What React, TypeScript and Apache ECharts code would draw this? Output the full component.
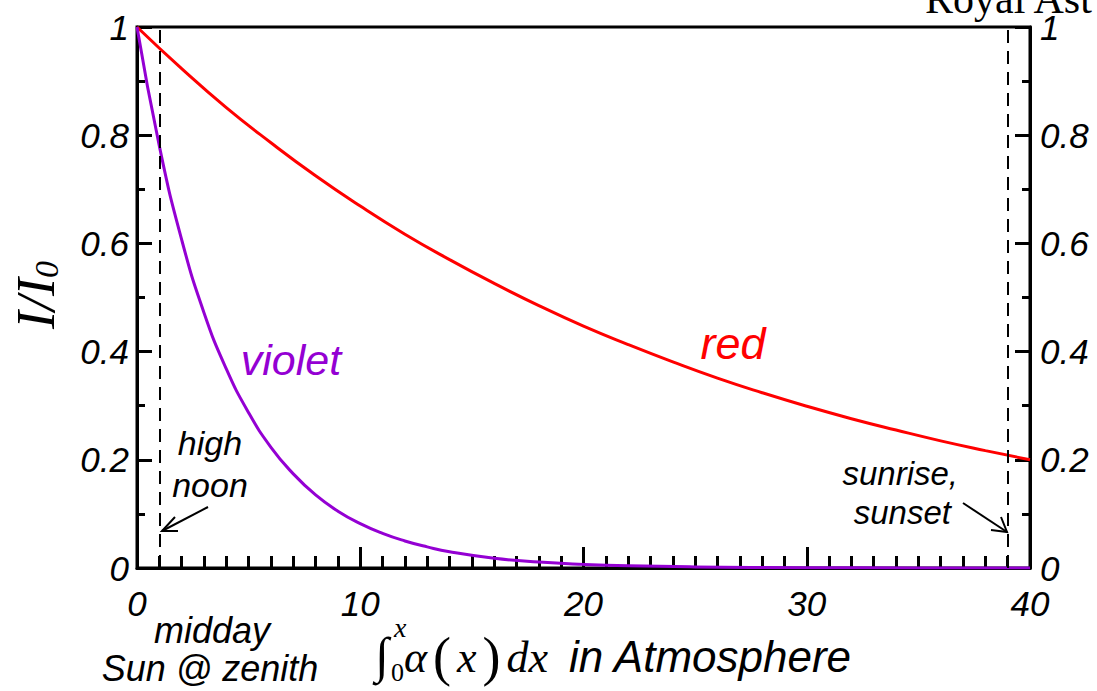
import React, { useEffect, useRef } from "react";
import * as echarts from "echarts";

const redX = [0, 2, 4, 6, 8, 10, 12, 14, 16, 18, 20, 22, 24, 26, 28, 30, 32, 34, 36, 38, 40];
const redY = [1, 0.923, 0.851, 0.786, 0.725, 0.669, 0.617, 0.57, 0.526, 0.485, 0.447, 0.413, 0.381, 0.351, 0.324, 0.299, 0.276, 0.255, 0.235, 0.217, 0.2];
const violetX = [0, 1, 2, 3, 4, 5, 6, 7, 8, 9, 10, 11, 12, 13, 14, 16, 18, 20, 22, 25, 30, 35, 40];
const violetY = [1, 0.78, 0.607, 0.472, 0.368, 0.287, 0.223, 0.174, 0.135, 0.105, 0.082, 0.064, 0.05, 0.039, 0.03, 0.018, 0.011, 0.0067, 0.004, 0.002, 0.0006, 0.0002, 0.00005];
const markerX = [1, 39];
const yTicks = { min: 0, max: 1, interval: 0.2 };
const xTicks = { min: 0, max: 40, interval: 10 };

const SANS = "Liberation Sans, Arial, sans-serif";
const SERIF = "Liberation Serif, Times New Roman, serif";

export default function App() {
  const ref = useRef<HTMLDivElement>(null);
  useEffect(() => {
    if (!ref.current) return;
    const chart = echarts.init(ref.current, null, { renderer: "svg" });
    const yAxisBase = (pos: "left" | "right") => ({
      type: "value" as const,
      position: pos,
      min: yTicks.min,
      max: yTicks.max,
      interval: yTicks.interval,
      axisLine: { show: true, lineStyle: { color: "#000", width: 3 } },
      axisTick: { show: true, inside: true, length: 15, lineStyle: { color: "#000", width: 3 } },
      minorTick: { show: true, splitNumber: 2, length: 8, lineStyle: { color: "#000", width: 3 } },
      splitLine: { show: false },
      minorSplitLine: { show: false },
      axisLabel: {
        show: true,
        color: "#000",
        fontSize: 35,
        fontStyle: "italic",
        fontFamily: SANS,
        margin: pos === "left" ? 8 : 10,
      },
    });
    const txt = (x: number, y: number, text: string, font: string, fill = "#000", align = "center") => ({
      type: "text",
      x,
      y,
      style: { text, font, fill, align, verticalAlign: "middle" },
    });
    chart.setOption({
      animation: false,
      backgroundColor: "#fff",
      grid: {
        left: 137,
        right: 67,
        top: 27,
        bottom: 123,
        show: true,
        borderColor: "#000",
        borderWidth: 3,
        backgroundColor: "transparent",
      },
      xAxis: {
        type: "value",
        min: xTicks.min,
        max: xTicks.max,
        interval: xTicks.interval,
        axisLine: { show: true, lineStyle: { color: "#000", width: 3 } },
        axisTick: { show: true, inside: true, length: 21, lineStyle: { color: "#000", width: 3 } },
        minorTick: { show: true, splitNumber: 10, length: 12, lineStyle: { color: "#000", width: 3 } },
        splitLine: { show: false },
        minorSplitLine: { show: false },
        axisLabel: {
          color: "#000",
          fontSize: 35,
          fontStyle: "italic",
          fontFamily: SANS,
          margin: 18,
        },
      },
      yAxis: [yAxisBase("left"), yAxisBase("right")],
      series: [
        {
          type: "line",
          name: "red",
          data: redX.map((x, i) => [x, redY[i]]),
          smooth: true,
          showSymbol: false,
          lineStyle: { color: "#ff0000", width: 3 },
          z: 3,
          markLine: {
            silent: true,
            symbol: ["none", "none"],
            label: { show: false },
            lineStyle: { color: "#000", width: 2, type: [13, 8] },
            data: markerX.map((v) => ({ xAxis: v })),
          },
        },
        {
          type: "line",
          name: "violet",
          data: violetX.map((x, i) => [x, violetY[i]]),
          smooth: true,
          showSymbol: false,
          lineStyle: { color: "#9400d3", width: 3 },
          z: 3,
        },
      ],
      graphic: [
        {
          type: "text",
          x: 925,
          y: 20,
          style: { text: "Royal Ast", font: `42px ${SERIF}`, fill: "#000", verticalAlign: "bottom", align: "left" },
        },
        txt(291, 360, "violet", `italic 43px ${SANS}`, "#9400d3"),
        txt(733, 343, "red", `italic 45px ${SANS}`, "#ff0000"),
        txt(210, 443, "high", `italic 34px ${SANS}`),
        txt(210, 485, "noon", `italic 34px ${SANS}`),
        txt(958, 473, "sunrise,", `italic 33px ${SANS}`, "#000", "right"),
        txt(951, 512, "sunset", `italic 33px ${SANS}`, "#000", "right"),
        { type: "line", shape: { x1: 208, y1: 507, x2: 162, y2: 531 }, style: { stroke: "#000", lineWidth: 2 } },
        { type: "polyline", shape: { points: [[175, 517], [162, 531], [178, 531]] }, style: { stroke: "#000", lineWidth: 2, fill: "none" } },
        { type: "line", shape: { x1: 963, y1: 503, x2: 1007, y2: 532 }, style: { stroke: "#000", lineWidth: 2 } },
        { type: "polyline", shape: { points: [[991, 530], [1007, 532], [1001, 517]] }, style: { stroke: "#000", lineWidth: 2, fill: "none" } },
        txt(212, 630, "midday", `italic 36px ${SANS}`),
        txt(210, 668, "Sun @ zenith", `italic 36px ${SANS}`),
        {
          type: "text",
          x: 36,
          y: 295,
          rotation: Math.PI / 2,
          style: {
            text: "{a|I/I}{b|0}",
            align: "center",
            verticalAlign: "middle",
            rich: {
              a: { font: `italic 54px ${SERIF}`, fill: "#000", verticalAlign: "bottom" },
              b: { font: `italic 34px ${SERIF}`, fill: "#000", verticalAlign: "bottom" },
            },
          },
        },
        txt(375, 655, "∫", `50px ${SERIF}`, "#000", "left"),
        txt(394, 627, "x", `italic 28px ${SERIF}`, "#000", "left"),
        txt(391, 672, "0", `26px ${SERIF}`, "#000", "left"),
        {
          type: "text",
          x: 404,
          y: 657,
          style: {
            text: "{a|α}{p|(}{a|x}{p|)}{a|dx}",
            align: "left",
            verticalAlign: "middle",
            rich: {
              a: { font: `italic 44px ${SERIF}`, fill: "#000", verticalAlign: "middle" },
              p: { font: `54px ${SERIF}`, fill: "#000", verticalAlign: "middle", padding: [0, 6, 0, 6] },
            },
          },
        },
        txt(569, 656, "in Atmosphere", `italic 44px ${SANS}`, "#000", "left"),
      ],
    });
    return () => chart.dispose();
  }, []);
  return <div ref={ref} style={{ position: "fixed", left: 0, top: 0, width: 1097, height: 691 }} />;
}
